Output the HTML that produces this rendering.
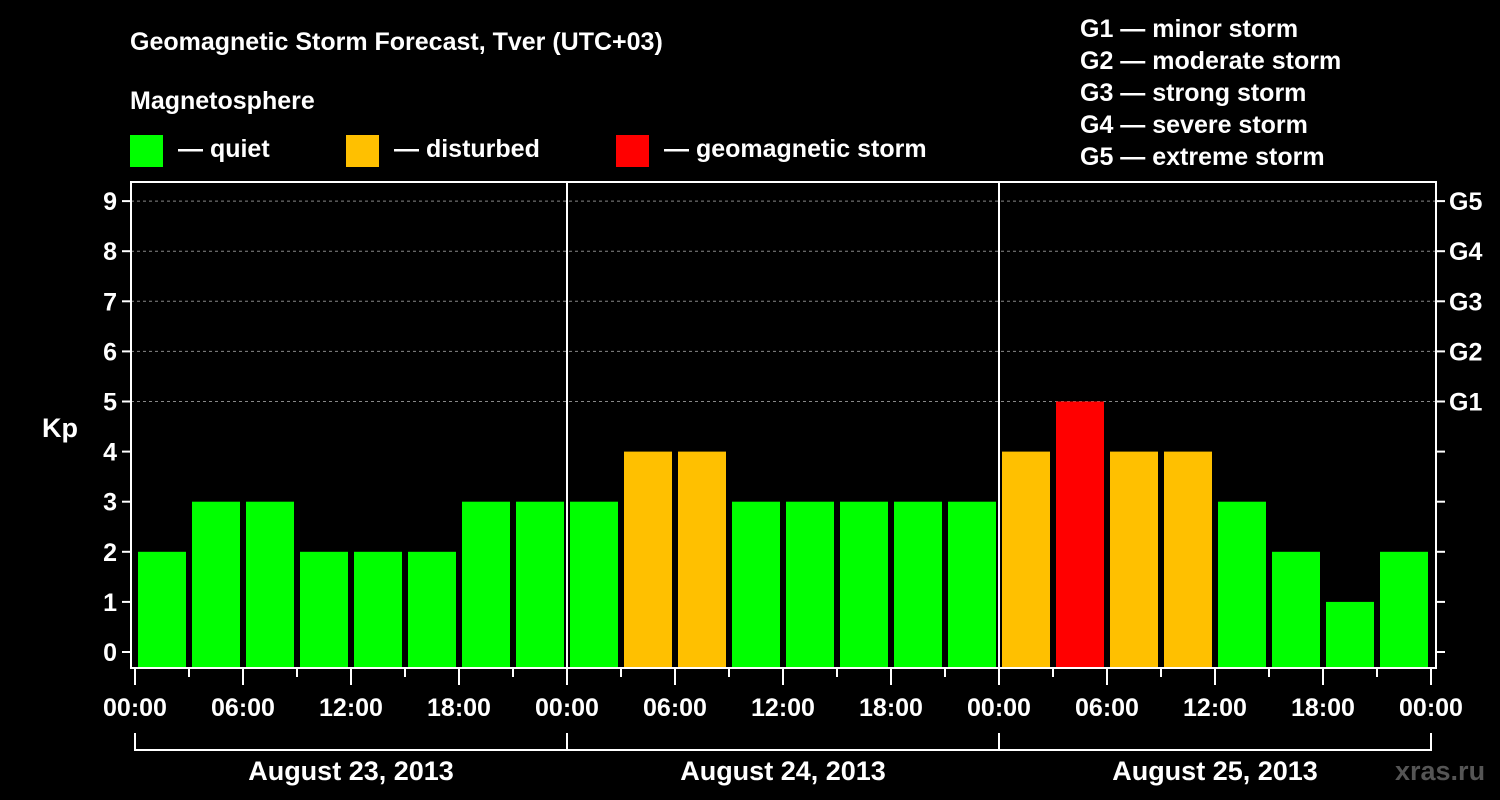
<!DOCTYPE html>
<html><head><meta charset="utf-8"><style>
body{margin:0;background:#000;}
svg{display:block;font-family:"Liberation Sans",sans-serif;font-weight:bold;}
</style></head><body>
<svg id="c" width="1500" height="800" viewBox="0 0 1500 800">
<rect width="1500" height="800" fill="#000"/>
<text x="130" y="50" fill="#fff" font-size="25">Geomagnetic Storm Forecast, Tver (UTC+03)</text>
<text x="130" y="109" fill="#fff" font-size="25">Magnetosphere</text>
<g><rect x="130" y="135" width="33" height="32" fill="#00ff00"/><text x="178" y="157" fill="#fff" font-size="25">— quiet</text></g>
<g><rect x="346" y="135" width="33" height="32" fill="#ffc000"/><text x="394" y="157" fill="#fff" font-size="25">— disturbed</text></g>
<g><rect x="616" y="135" width="33" height="32" fill="#ff0000"/><text x="664" y="157" fill="#fff" font-size="25">— geomagnetic storm</text></g>
<g fill="#fff" font-size="25">
<text x="1080" y="37">G1 — minor storm</text><text x="1080" y="69">G2 — moderate storm</text><text x="1080" y="101">G3 — strong storm</text><text x="1080" y="133">G4 — severe storm</text><text x="1080" y="165">G5 — extreme storm</text>
</g>
<text x="42" y="437" fill="#fff" font-size="27">Kp</text>
<text x="1395" y="780" fill="#555" font-size="27">xras.ru</text>
<g id="grid"></g><g id="bars"></g><g id="axes"></g>
</svg>
<script>
const kpValues=[2,3,3,2,2,2,3,3, 3,4,4,3,3,3,3,3, 4,5,4,4,3,2,1,2];
const dayLabels=["August 23, 2013","August 24, 2013","August 25, 2013"];
const hourLabels=["00:00","06:00","12:00","18:00"];
const yTicks=[0,1,2,3,4,5,6,7,8,9];
const gLabels=["G1","G2","G3","G4","G5"];
const NS="http://www.w3.org/2000/svg";
const L=131,R=1436,T=182,B=668,X0=135,DAY=432;
const y=v=>652-v*50.1;
const x=h=>X0+h*DAY/24;
function mk(p,t,a,txt){const e=document.createElementNS(NS,t);for(const k in a)e.setAttribute(k,a[k]);if(txt!=null)e.textContent=txt;p.appendChild(e);return e;}
const grid=document.getElementById('grid'),bars=document.getElementById('bars'),axes=document.getElementById('axes');
for(let v=5;v<=9;v++){const l=mk(grid,'line',{x1:L,x2:R,y1:y(v),y2:y(v),stroke:'#888','stroke-dasharray':'3,3','stroke-width':1});

}
const col=v=>v>=5?'#ff0000':v>=4?'#ffc000':'#00ff00';
kpValues.forEach((v,i)=>{const r=mk(bars,'rect',{x:x(i*3)+3,y:y(v),width:48,height:B-y(v),fill:col(v)});

});
const fr=mk(axes,'rect',{x:L,y:T,width:R-L,height:B-T,fill:'none',stroke:'#fff','stroke-width':2});


for(let d=1;d<3;d++){const l=mk(axes,'line',{x1:x(d*24),x2:x(d*24),y1:T,y2:B,stroke:'#fff','stroke-width':2});

}
yTicks.forEach(v=>{mk(axes,'line',{x1:L-9,x2:L,y1:y(v),y2:y(v),stroke:'#fff','stroke-width':2});
mk(axes,'line',{x1:R,x2:R+9,y1:y(v),y2:y(v),stroke:'#fff','stroke-width':2});
const t=mk(axes,'text',{x:L-14,y:y(v)+9,fill:'#fff','font-size':25,'text-anchor':'end'},v);

});
gLabels.forEach((g,i)=>{const t=mk(axes,'text',{x:1449,y:y(5+i)+9,fill:'#fff','font-size':25},g);

});
for(let h=0;h<=72;h+=3){const major=h%6==0;mk(axes,'line',{x1:x(h),x2:x(h),y1:B,y2:major?685:677,stroke:'#fff','stroke-width':2});}
for(let h=0;h<=72;h+=6){const t=mk(axes,'text',{x:x(h),y:716,fill:'#fff','font-size':25,'text-anchor':'middle'},hourLabels[(h/6)%4]);

}
mk(axes,'path',{d:`M${x(0)} 733V750H${x(72)}V733M${x(24)} 733V750M${x(48)} 733V750`,stroke:'#fff','stroke-width':2,fill:'none'});
dayLabels.forEach((d,i)=>{const t=mk(axes,'text',{x:x(i*24+12),y:780,fill:'#fff','font-size':27,'text-anchor':'middle'},d);

});
</script>
</body></html>
